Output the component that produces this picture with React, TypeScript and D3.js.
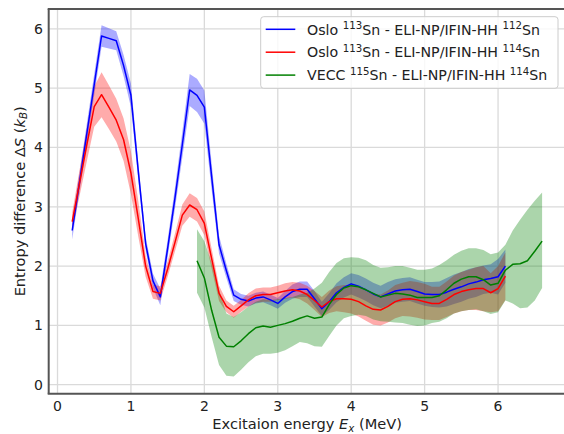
import React from "react";
import * as d3 from "d3";

// ---------- data ----------
const osloEnergy = [
  0.2, 0.3, 0.4, 0.5, 0.6, 0.7, 0.8, 0.9, 1.0, 1.1, 1.2, 1.3, 1.4, 1.5, 1.6, 1.7, 1.8, 1.9, 2.0, 2.1,
  2.2, 2.3, 2.4, 2.5, 2.6, 2.7, 2.8, 2.9, 3.0, 3.1, 3.2, 3.3, 3.4, 3.5, 3.6, 3.7, 3.8, 3.9, 4.0, 4.1,
  4.2, 4.3, 4.4, 4.5, 4.6, 4.7, 4.8, 4.9, 5.0, 5.1, 5.2, 5.3, 5.4, 5.5, 5.6, 5.7, 5.8, 5.9, 6.0, 6.1,
];
const blueValues = [
  2.6, 3.42, 4.24, 5.06, 5.88, 5.84, 5.8, 5.38, 4.88, 3.6, 2.38, 1.75, 1.48, 2.3, 3.15, 4.05, 4.97, 4.88, 4.68, 3.5,
  2.36, 1.92, 1.51, 1.44, 1.41, 1.46, 1.48, 1.43, 1.37, 1.48, 1.57, 1.61, 1.61, 1.45, 1.28, 1.4, 1.55, 1.64, 1.7, 1.66,
  1.6, 1.53, 1.48, 1.53, 1.58, 1.6, 1.61, 1.57, 1.53, 1.52, 1.52, 1.56, 1.61, 1.65, 1.7, 1.73, 1.77, 1.79, 1.82, 2.0,
];
const blueErr = [
  0.15, 0.16, 0.17, 0.18, 0.18, 0.17, 0.16, 0.18, 0.2, 0.15, 0.12, 0.12, 0.14, 0.15, 0.18, 0.22, 0.27, 0.28, 0.28, 0.22,
  0.15, 0.12, 0.1, 0.09, 0.09, 0.09, 0.09, 0.09, 0.09, 0.1, 0.12, 0.13, 0.13, 0.13, 0.12, 0.14, 0.16, 0.17, 0.18, 0.19,
  0.19, 0.19, 0.19, 0.2, 0.2, 0.2, 0.2, 0.2, 0.2, 0.21, 0.22, 0.24, 0.25, 0.25, 0.25, 0.25, 0.24, 0.24, 0.3, 0.28,
];
const redValues = [
  2.75, 3.4, 4.05, 4.69, 4.89, 4.68, 4.46, 4.13, 3.57, 2.8, 2.0, 1.57, 1.54, 1.95, 2.4, 2.86, 3.03, 2.95, 2.72, 2.12,
  1.54, 1.32, 1.23, 1.33, 1.43, 1.5, 1.52, 1.52, 1.55, 1.58, 1.6, 1.58, 1.52, 1.42, 1.31, 1.4, 1.45, 1.45, 1.44, 1.4,
  1.33, 1.27, 1.26, 1.32, 1.4, 1.44, 1.45, 1.43, 1.4, 1.37, 1.37, 1.44, 1.52, 1.57, 1.6, 1.62, 1.62, 1.55, 1.62, 1.83,
];
const redErr = [
  0.15, 0.22, 0.28, 0.34, 0.38, 0.37, 0.36, 0.36, 0.36, 0.3, 0.18, 0.12, 0.12, 0.13, 0.15, 0.18, 0.2, 0.2, 0.2, 0.17,
  0.13, 0.1, 0.1, 0.1, 0.11, 0.12, 0.12, 0.12, 0.12, 0.13, 0.13, 0.14, 0.15, 0.16, 0.17, 0.19, 0.21, 0.23, 0.24, 0.25,
  0.25, 0.26, 0.26, 0.27, 0.28, 0.28, 0.3, 0.3, 0.3, 0.28, 0.28, 0.3, 0.32, 0.33, 0.34, 0.36, 0.38, 0.33, 0.38, 0.4,
];

const veccEnergy = [
  1.9, 2.0, 2.1, 2.2, 2.3, 2.4, 2.5, 2.6, 2.7, 2.8, 2.9, 3.0, 3.1, 3.2, 3.3, 3.4, 3.5, 3.6, 3.7, 3.8,
  3.9, 4.0, 4.1, 4.2, 4.3, 4.4, 4.5, 4.6, 4.7, 4.8, 4.9, 5.0, 5.1, 5.2, 5.3, 5.4, 5.5, 5.6, 5.7, 5.8,
  5.9, 6.0, 6.1, 6.2, 6.3, 6.4, 6.5, 6.6,
];
const greenValues = [
  2.09, 1.8, 1.25, 0.8, 0.65, 0.64, 0.74, 0.86, 0.96, 0.99, 0.97, 1.0, 1.03, 1.07, 1.12, 1.16, 1.12, 1.14, 1.35, 1.52,
  1.63, 1.67, 1.65, 1.6, 1.54, 1.48, 1.51, 1.54, 1.53, 1.51, 1.47, 1.47, 1.47, 1.5, 1.6, 1.71, 1.78, 1.82, 1.82, 1.77,
  1.68, 1.71, 1.93, 2.03, 2.04, 2.09, 2.25, 2.42,
];
const greenUpper = [
  2.62, 2.42, 2.05, 1.6, 1.2, 1.14, 1.22, 1.32, 1.4, 1.44, 1.43, 1.44, 1.46, 1.48, 1.52, 1.55, 1.62, 1.72, 1.9, 2.05,
  2.13, 2.15, 2.14, 2.1, 2.02, 1.97, 1.98, 2.0, 2.0, 1.97, 1.94, 1.94, 1.96, 2.02, 2.1, 2.19, 2.26, 2.3, 2.3, 2.27,
  2.2, 2.23, 2.36, 2.6, 2.78, 2.95, 3.1, 3.24,
];
const greenLower = [
  1.55, 1.3, 0.8, 0.33, 0.15, 0.14, 0.25, 0.38, 0.48, 0.52, 0.52, 0.54, 0.58, 0.65, 0.72, 0.7, 0.65, 0.64, 0.82, 1.0,
  1.12, 1.16, 1.18, 1.16, 1.1, 1.07, 1.06, 1.05, 1.04, 1.01, 0.99, 1.0, 1.04, 1.06, 1.12, 1.2, 1.24, 1.26, 1.27, 1.24,
  1.19, 1.22, 1.42, 1.37, 1.29, 1.3, 1.42, 1.63,
];

const xTicks = [0, 1, 2, 3, 4, 5, 6];
const yTicks = [0, 1, 2, 3, 4, 5, 6];

type Pt = { x: number; y: number; lo: number; hi: number };

const W = 564;
const H = 434;
const FONT = "DejaVu Sans, sans-serif";

export default function App() {
  const left = 48.7;
  const right = 565.6;
  const top = 9;
  const bottom = 393.7;
  const x = d3.scaleLinear().domain([-0.12, 6.92]).range([left, right]);
  const y = d3.scaleLinear().domain([-0.152, 6.335]).range([bottom, top]);

  const blue: Pt[] = osloEnergy.map((e, i) => ({ x: e, y: blueValues[i], lo: blueValues[i] - blueErr[i], hi: blueValues[i] + blueErr[i] }));
  const red: Pt[] = osloEnergy.map((e, i) => ({ x: e, y: redValues[i], lo: redValues[i] - redErr[i], hi: redValues[i] + redErr[i] }));
  const green: Pt[] = veccEnergy.map((e, i) => ({ x: e, y: greenValues[i], lo: greenLower[i], hi: greenUpper[i] }));

  const area = d3
    .area<Pt>()
    .x((d) => x(d.x))
    .y0((d) => y(d.lo))
    .y1((d) => y(d.hi));
  const line = d3
    .line<Pt>()
    .x((d) => x(d.x))
    .y((d) => y(d.y));

  const series = [
    { data: blue, color: "#0000ff", label: ["Oslo ", "113", "Sn - ELI-NP/IFIN-HH ", "112", "Sn"] },
    { data: red, color: "#ff0000", label: ["Oslo ", "113", "Sn - ELI-NP/IFIN-HH ", "114", "Sn"] },
    { data: green, color: "#008000", label: ["VECC ", "115", "Sn - ELI-NP/IFIN-HH ", "114", "Sn"] },
  ];

  const gridColor = "#dadada";
  const spineColor = "#555555";
  const tickFs = 14;
  const labelFs = 14.6;
  const legFs = 14.2;
  const supFs = 10.2;

  return (
    <svg
      width={W}
      height={H}
      style={{ position: "absolute", left: 0, top: 0, background: "#fff" }}
      fontFamily={FONT}
    >
      <defs>
        <clipPath id="plotclip">
          <rect x={left} y={top} width={right - left} height={bottom - top} />
        </clipPath>
      </defs>
      <rect x={0} y={0} width={W} height={H} fill="#fff" />
      {/* grid */}
      <g>
        {xTicks.map((t) => (
          <line key={"gx" + t} x1={x(t)} x2={x(t)} y1={top} y2={bottom} stroke={gridColor} strokeWidth={1.3} />
        ))}
        {yTicks.map((t) => (
          <line key={"gy" + t} x1={left} x2={right} y1={y(t)} y2={y(t)} stroke={gridColor} strokeWidth={1.3} />
        ))}
      </g>
      {/* bands */}
      <g clipPath="url(#plotclip)">
        {series.map((s, i) => (
          <path key={"band" + i} d={area(s.data) || ""} fill={s.color} fillOpacity={0.33} stroke="none" />
        ))}
        {series.map((s, i) => (
          <path key={"line" + i} d={line(s.data) || ""} fill="none" stroke={s.color} strokeWidth={1.5} strokeLinejoin="round" />
        ))}
      </g>
      {/* spines */}
      <line x1={left} x2={left} y1={top} y2={bottom} stroke={spineColor} strokeWidth={2} />
      <line x1={left - 1} x2={right} y1={bottom} y2={bottom} stroke={spineColor} strokeWidth={2} />
      <line x1={left - 1} x2={right} y1={top} y2={top} stroke={spineColor} strokeWidth={2} />
      {/* tick labels */}
      {xTicks.map((t) => (
        <text key={"tx" + t} x={x(t)} y={410.5} textAnchor="middle" fontSize={tickFs} fill="#222">
          {t}
        </text>
      ))}
      {yTicks.map((t) => (
        <text key={"ty" + t} x={42.8} y={y(t) + 5} textAnchor="end" fontSize={tickFs} fill="#222">
          {t}
        </text>
      ))}
      {/* axis labels */}
      <text x={(left + right) / 2} y={429.3} textAnchor="middle" fontSize={labelFs} fill="#222">
        Excitaion energy <tspan fontStyle="italic">E</tspan>
        <tspan fontStyle="italic" fontSize={labelFs * 0.7} dy={2.6}>x</tspan>
        <tspan dy={-2.6}> (MeV)</tspan>
      </text>
      <text
        transform={`translate(24.5,${(top + bottom) / 2}) rotate(-90)`}
        textAnchor="middle"
        fontSize={labelFs}
        fill="#222"
      >
        Entropy difference Δ<tspan fontStyle="italic">S</tspan> (<tspan fontStyle="italic">k</tspan>
        <tspan fontStyle="italic" fontSize={labelFs * 0.7} dy={2.6}>B</tspan>
        <tspan dy={-2.6}>)</tspan>
      </text>
      {/* legend */}
      <g>
        <rect x={260.7} y={16.7} width={297.3} height={71.6} rx={3} ry={3} fill="#fff" fillOpacity={0.8} stroke="#cccccc" strokeWidth={1} />
        {series.map((s, i) => {
          const cy = 29.3 + i * 22.9;
          return (
            <g key={"leg" + i}>
              <line x1={265.7} x2={295.3} y1={cy} y2={cy} stroke={s.color} strokeWidth={1.5} />
              <text x={307} y={cy + 5.2} fontSize={legFs} fill="#222">
                {s.label[0]}
                <tspan fontSize={supFs} dy={-5.6}>{s.label[1]}</tspan>
                <tspan dy={5.6}>{s.label[2]}</tspan>
                <tspan fontSize={supFs} dy={-5.6}>{s.label[3]}</tspan>
                <tspan dy={5.6}>{s.label[4]}</tspan>
              </text>
            </g>
          );
        })}
      </g>
    </svg>
  );
}
